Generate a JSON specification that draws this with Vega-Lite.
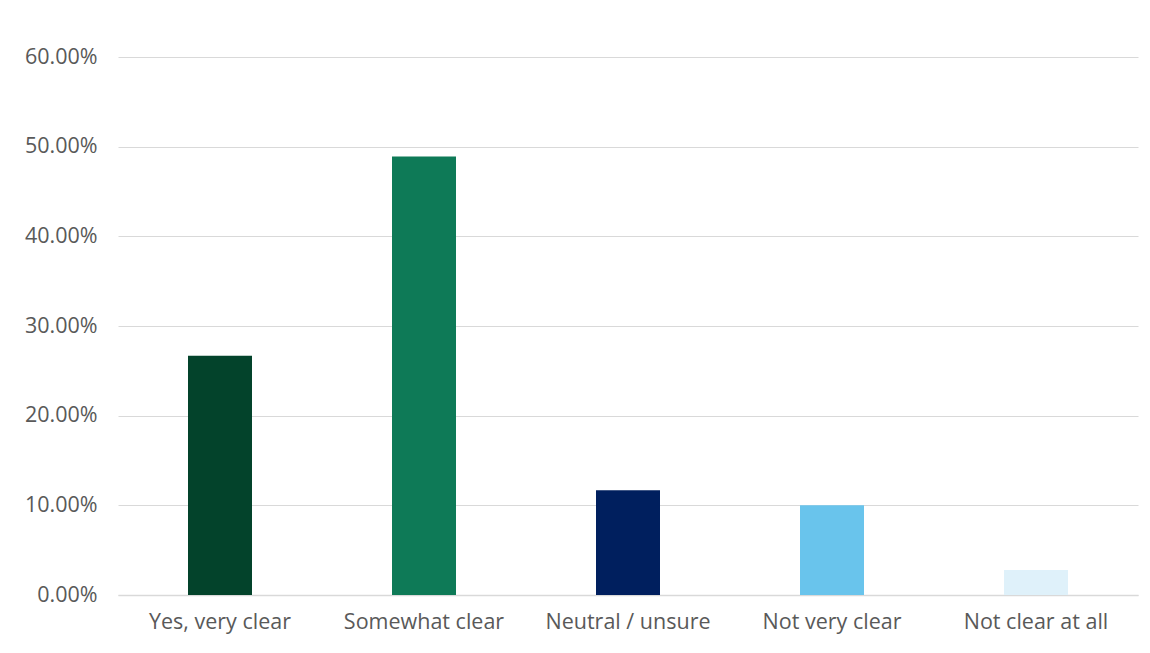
{
  "$schema": "https://vega.github.io/schema/vega-lite/v6.json",
  "width": 1020,
  "height": 538,
  "autosize": {"type": "none"},
  "padding": {"left": 118, "top": 57, "right": 12, "bottom": 58},
  "background": "white",
  "config": {
    "view": {"stroke": null},
    "font": "Open Sans",
    "axis": {"labelFont": "Open Sans", "labelColor": "#595959", "labelFontSize": 21.5, "gridColor": "#D9D9D9", "gridWidth": 1, "labelOverlap": false}
  },
  "data": {
    "values": [
      {"response": "Yes, very clear", "pct": 0.2667},
      {"response": "Somewhat clear", "pct": 0.4889},
      {"response": "Neutral / unsure", "pct": 0.1167},
      {"response": "Not very clear", "pct": 0.1000},
      {"response": "Not clear at all", "pct": 0.0278}
    ]
  },
  "mark": {"type": "bar", "size": 64},
  "encoding": {
    "x": {
      "field": "response", "type": "nominal", "sort": null,
      "scale": {"paddingInner": 0, "paddingOuter": 0},
      "axis": {"title": null, "labelAngle": 0, "ticks": false, "domainColor": "#D9D9D9", "domainWidth": 1.5, "labelPadding": 16, "grid": false}
    },
    "y": {
      "field": "pct", "type": "quantitative",
      "scale": {"domain": [0, 0.6], "nice": false},
      "axis": {"title": null, "format": ".2%", "values": [0, 0.1, 0.2, 0.3, 0.4, 0.5, 0.6], "ticks": false, "domain": false, "labelPadding": 21, "grid": true}
    },
    "color": {
      "field": "response", "type": "nominal", "sort": null, "legend": null,
      "scale": {
        "domain": ["Yes, very clear", "Somewhat clear", "Neutral / unsure", "Not very clear", "Not clear at all"],
        "range": ["#03432B", "#0E7A57", "#001F5E", "#69C4EC", "#DFF1FA"]
      }
    }
  }
}
